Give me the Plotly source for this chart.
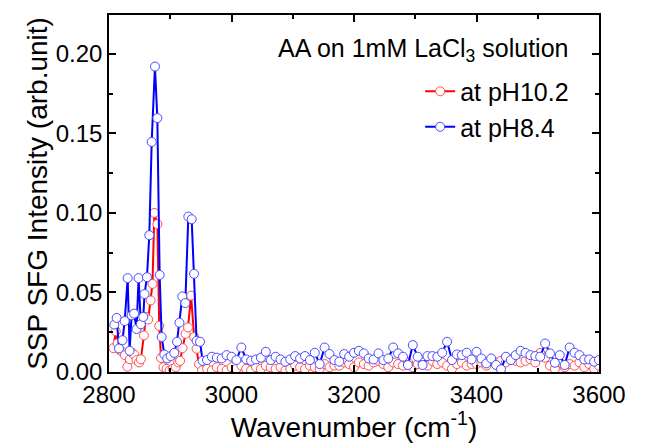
import numpy as np
import plotly.graph_objects as go

# CH stretching region (finer steps)
blue_ch_x = [2808.7, 2812.5, 2816.3, 2822, 2825.6, 2830.5, 2833.6, 2836.9, 2841, 2845,
             2848.3, 2852, 2856, 2858, 2862, 2865.8, 2869.7, 2875, 2878.9, 2882.7,
             2886, 2890.3, 2895, 2900.6, 2906.6, 2911, 2915, 2919.7, 2924.6, 2929.5,
             2935, 2938.8, 2943, 2948.6, 2952.8]
blue_ch_y = [0.0298, 0.034, 0.0148, 0.020, 0.032, 0.059, 0.0133, 0.0356, 0.0367, 0.027,
             0.059, 0.030, 0.0346, 0.049, 0.0596, 0.086, 0.1446, 0.192, 0.1596, 0.061,
             0.022, 0.011, 0.0085, 0.010, 0.012, 0.019, 0.031, 0.0475, 0.0433, 0.0977,
             0.096, 0.0617, 0.0196, 0.019, 0.007]

red_ch_x = [2807, 2811, 2814, 2818, 2822, 2826, 2830, 2834, 2838, 2841,
            2845, 2849, 2852, 2857, 2860, 2864, 2868, 2871, 2874, 2879,
            2882, 2885, 2889, 2894, 2899, 2904, 2909, 2913, 2916, 2920,
            2925, 2929, 2934, 2939, 2943, 2947, 2952]
red_ch_y = [0.0150, 0.0256, 0.018, 0.0137, 0.0125, 0.0106, 0.0033, 0.0080, 0.012, 0.011,
            0.0075, 0.006, 0.008, 0.023, 0.0346, 0.033, 0.045, 0.0554, 0.100, 0.093,
            0.029, 0.0088, 0.003, 0.002, 0.001, 0.002, 0.003, 0.006, 0.007, 0.0150,
            0.024, 0.028, 0.048, 0.022, 0.0146, 0.005, 0.001]

# OH region, 8 cm-1 steps from 2960 to 3600
oh_x = np.arange(2960, 3601, 8)
blue_oh_y = [0.0075, 0.0096, 0.0090, 0.0085, 0.0106, 0.0096, 0.0075, 0.0154, 0.0079, 0.0071,
             0.0079, 0.0090, 0.0127, 0.0075, 0.0096, 0.0079, 0.0065, 0.0079, 0.0100, 0.0085,
             0.0100, 0.0075, 0.0121, 0.0050, 0.0154, 0.0113, 0.0075, 0.0065, 0.0113, 0.0096,
             0.0121, 0.0133, 0.0117, 0.0085, 0.0079, 0.0117, 0.0075, 0.0085, 0.0154, 0.0117,
             0.0096, 0.0044, 0.0169, 0.0096, 0.0044, 0.0100, 0.0100, 0.0096, 0.0121, 0.0190,
             0.0075, 0.0110, 0.0106, 0.0121, 0.0079, 0.0127, 0.0085, 0.0054,
             0.0085, 0.0044, 0.0017, 0.0096, 0.0075, 0.0106, 0.0133, 0.0121, 0.0106, 0.0100,
             0.0096, 0.0179, 0.0117, 0.0058, 0.0106, 0.0044, 0.0154, 0.0121, 0.0106, 0.0079,
             0.0079, 0.0065, 0.0075]
red_oh_y = [0.002, 0.001, 0.003, 0.002, 0.001, 0.003, 0.002, 0.004, 0.002, 0.001,
            0.003, 0.002, 0.004, 0.003, 0.002, 0.003, 0.001, 0.002, 0.004, 0.003,
            0.002, 0.004, 0.003, 0.002, 0.005, 0.003, 0.004,
            0.004, 0.006, 0.005, 0.003, 0.006, 0.005, 0.004, 0.006, 0.007, 0.005,
            0.003, 0.006, 0.005, 0.004, 0.006, 0.003, 0.005, 0.006, 0.004, 0.007,
            0.005, 0.006, 0.004, 0.002, 0.005, 0.006, 0.004, 0.005,
            0.005, 0.006, 0.004, 0.007, 0.006, 0.007, 0.006, 0.008, 0.007, 0.006,
            0.007, 0.008, 0.006, 0.012, 0.009, 0.004, 0.002, 0.006, 0.003, 0.005,
            0.004, 0.006, 0.003, 0.005, 0.002, 0.004]

red_x = list(red_ch_x) + list(oh_x)
red_y = red_ch_y + red_oh_y
blue_x = list(blue_ch_x) + list(oh_x)
blue_y = blue_ch_y + blue_oh_y

FONT = "Liberation Sans, Arial, sans-serif"

fig = go.Figure()
fig.add_trace(go.Scatter(
    x=red_x, y=red_y, mode="lines+markers", name="at pH10.2",
    line=dict(color="#ff0000", width=2),
    marker=dict(symbol="circle", size=9, color="white",
                line=dict(color="#ff5050", width=1)),
))
fig.add_trace(go.Scatter(
    x=blue_x, y=blue_y, mode="lines+markers", name="at pH8.4",
    line=dict(color="#0000ff", width=2),
    marker=dict(symbol="circle", size=9, color="white",
                line=dict(color="#4a4aff", width=1)),
))

fig.add_annotation(
    text="AA on 1mM LaCl<sub>3</sub> solution",
    xref="paper", yref="paper", x=0.941, y=0.9025,
    xanchor="right", yanchor="middle", showarrow=False,
    font=dict(family=FONT, size=25, color="black"),
)

# the page body adds an 8px margin, so the figure is sized to fit inside it
fig.update_layout(
    width=651, height=435,
    margin=dict(l=101, r=60, t=5, b=71),
    paper_bgcolor="white", plot_bgcolor="white",
    font=dict(family=FONT, color="black"),
    showlegend=True,
    legend=dict(x=0.635, y=0.85, xanchor="left", yanchor="top",
                bgcolor="rgba(0,0,0,0)", font=dict(family=FONT, size=25),
                tracegroupgap=0),
)

fig.update_xaxes(
    range=[2800, 3600], tickvals=[2800, 3000, 3200, 3400, 3600],
    ticks="inside", ticklen=7, tickwidth=1.5, tickcolor="black",
    minor=dict(dtick=100, ticks="inside", ticklen=4, tickcolor="black"),
    showline=True, linecolor="black", linewidth=1.5, mirror="ticks",
    showgrid=False, zeroline=False,
    tickfont=dict(family=FONT, size=24),
    title=dict(text="Wavenumber (cm<sup>-1</sup>)", font=dict(family=FONT, size=28),
               standoff=0),
)
fig.update_yaxes(
    range=[0, 0.2244], tickvals=[0, 0.05, 0.10, 0.15, 0.20], tickformat=".2f",
    ticks="inside", ticklen=7, tickwidth=1.5, tickcolor="black",
    minor=dict(dtick=0.025, ticks="inside", ticklen=4, tickcolor="black"),
    showline=True, linecolor="black", linewidth=1.5, mirror="ticks",
    showgrid=False, zeroline=False,
    tickfont=dict(family=FONT, size=24),
    title=dict(text="SSP SFG Intensity (arb.unit)", font=dict(family=FONT, size=28),
               standoff=0),
)

fig.write_html("out.html")
